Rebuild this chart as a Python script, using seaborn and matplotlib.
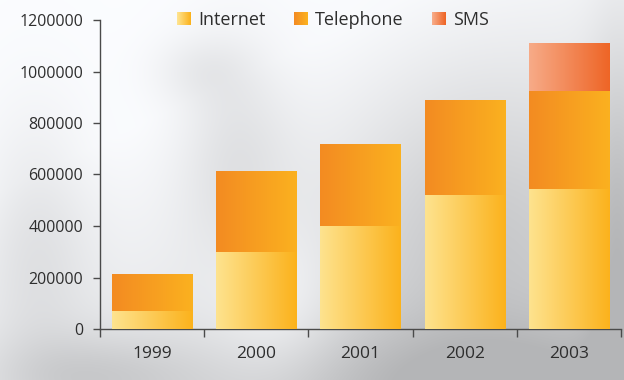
import numpy as np
import pandas as pd
import matplotlib
matplotlib.use("Agg")
import matplotlib.pyplot as plt
import seaborn as sns
from matplotlib.colors import LinearSegmentedColormap
from matplotlib.patches import Rectangle
from matplotlib.legend_handler import HandlerBase

# ---- data -------------------------------------------------------------
years = ["1999", "2000", "2001", "2002", "2003"]
internet = [70000, 300000, 400000, 520000, 545000]
telephone = [145000, 315000, 320000, 370000, 380000]
sms = [0, 0, 0, 0, 185000]
series_names = ["Internet", "Telephone", "SMS"]
y_ticks = [0, 200000, 400000, 600000, 800000, 1000000, 1200000]

# left -> right shading of each series
gradients = {
    "Internet": ("#fee38f", "#fbb21c"),
    "Telephone": ("#f38b22", "#fbb11f"),
    "SMS": ("#f7ab88", "#ee6526"),
}

sns.set_theme(style="white")
plt.rcParams["font.family"] = ["Open Sans", "DejaVu Sans"]
text_color = "#2e2e2e"
axis_color = "#4a4a4a"

W, H = 624, 380
fig = plt.figure(figsize=(W / 100, H / 100), dpi=100)

# ---- soft grey backdrop ----------------------------------------------
yy, xx = np.mgrid[0:H, 0:W].astype(float)


def blob(cx, cy, sx, sy, amp):
    return amp * np.exp(-(((xx - cx) / sx) ** 2 + ((yy - cy) / sy) ** 2) / 2)


shade = 0.16 * np.clip((xx / W) * 0.7 + (yy / H) * 0.9 - 0.45, 0, None)
shade += blob(235, 150, 40, 80, 0.08)
shade += blob(200, 70, 35, 25, 0.05)
shade += blob(35, 240, 40, 90, 0.08)
shade += blob(90, 375, 70, 30, 0.10)
shade += blob(470, 385, 170, 45, 0.12)
shade += blob(618, 240, 22, 150, 0.12)
shade += blob(470, 230, 90, 120, 0.10)
shade -= blob(275, 310, 45, 60, 0.07)
grey = np.clip(1.0 - shade, 0.72, 1.0)
bg_img = np.dstack([grey * 0.985, grey * 0.99, grey])
bg = fig.add_axes([0, 0, 1, 1], zorder=-10)
bg.imshow(bg_img, extent=[0, 1, 0, 1], aspect="auto", interpolation="bilinear")
bg.axis("off")

# ---- stacked bars -----------------------------------------------------
ax = fig.add_axes([100 / W, 51 / H, 521 / W, 309 / H])
ax.patch.set_alpha(0)

df = pd.DataFrame({"year": years, "Internet": internet,
                   "Telephone": telephone, "SMS": sms})
df["tel_top"] = df["Internet"] + df["Telephone"]
df["sms_top"] = df["tel_top"] + df["SMS"]

layers = [("SMS", "sms_top"), ("Telephone", "tel_top"), ("Internet", "Internet")]
grad = np.linspace(0, 1, 256).reshape(1, -1)
for i, (name, col) in enumerate(layers):
    n_before = len(ax.patches)
    sns.barplot(data=df, x="year", y=col, color=gradients[name][1],
                width=0.77, ax=ax, zorder=2 + 2 * i, linewidth=0)
    cmap = LinearSegmentedColormap.from_list(name, gradients[name])
    for p in ax.patches[n_before:]:
        x0, y0 = p.get_x(), p.get_y()
        w, h = p.get_width(), p.get_height()
        if h <= 0:
            continue
        im = ax.imshow(grad, extent=[x0, x0 + w, y0, y0 + h], aspect="auto",
                       cmap=cmap, zorder=3 + 2 * i, interpolation="bilinear")
        im.set_clip_path(p)

ax.set_xlim(-0.5, 4.5)
ax.set_ylim(0, 1200000)

# ---- axes styling -----------------------------------------------------
for s in ["top", "right"]:
    ax.spines[s].set_visible(False)
for s in ["left", "bottom"]:
    ax.spines[s].set_color(axis_color)
    ax.spines[s].set_linewidth(1.0)

ax.set_yticks(y_ticks)
ax.set_yticklabels([str(v) for v in y_ticks])
ax.set_xticks(np.arange(-0.5, 5, 1.0))
ax.set_xticklabels([])
ax.set_xticks(np.arange(len(years)), minor=True)
ax.set_xticklabels(years, minor=True)
ax.tick_params(axis="y", which="major", direction="out", length=5, width=1,
               color=axis_color, labelcolor=text_color, labelsize=11.5, pad=7, left=True)
ax.tick_params(axis="x", which="major", direction="out", length=6, width=1,
               color=axis_color, bottom=True)
ax.tick_params(axis="x", which="minor", length=0, labelcolor=text_color,
               labelsize=12.5, pad=12)
ax.set_xlabel("")
ax.set_ylabel("")
ax.grid(False)


# ---- legend with shaded swatches -------------------------------------
class ShadedSwatch(HandlerBase):
    def __init__(self, c0, c1, steps=14):
        super().__init__()
        self.cmap = LinearSegmentedColormap.from_list("sw", [c0, c1])
        self.steps = steps

    def create_artists(self, legend, orig_handle, xdescent, ydescent,
                       width, height, fontsize, trans):
        arts = []
        sw = width / self.steps
        for k in range(self.steps):
            r = Rectangle((-xdescent + k * sw, -ydescent), sw * 1.05, height,
                          facecolor=self.cmap(k / (self.steps - 1)),
                          edgecolor="none", transform=trans)
            arts.append(r)
        return arts


handles = [Rectangle((0, 0), 1, 1) for _ in series_names]
hmap = {h: ShadedSwatch(*gradients[n]) for h, n in zip(handles, series_names)}
leg = fig.legend(handles, series_names, handler_map=hmap, loc="center",
                 bbox_to_anchor=(333 / W, 1 - 20 / H), ncol=3, frameon=False,
                 fontsize=13, handlelength=0.75, handleheight=0.75,
                 handletextpad=0.4, columnspacing=1.6, borderaxespad=0)
for t in leg.get_texts():
    t.set_color(text_color)

fig.savefig("out.png", dpi=100)
